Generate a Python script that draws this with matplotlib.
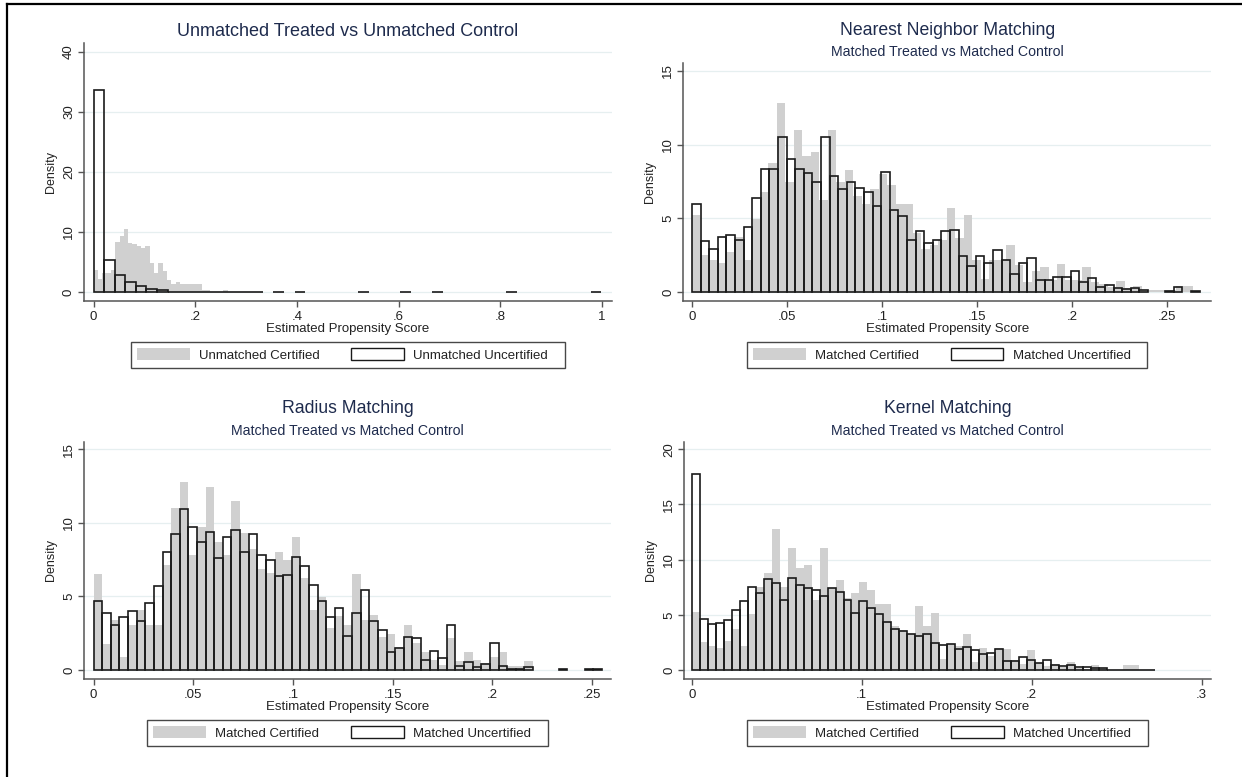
import numpy as np
import matplotlib
matplotlib.use('Agg')
import matplotlib.pyplot as plt
from matplotlib.patches import Patch
from matplotlib.lines import Line2D

plt.rcParams['font.family'] = ['Liberation Sans', 'DejaVu Sans']

nan = np.nan

# ---- datos (densidades por bin) ----
# Panel 1: Unmatched
p1_cert_start, p1_cert_width = 0.0, 0.0085
p1_cert = [3.75, 2.1, 3.2, 3.2, 3.75, 8.4, 9.4, 10.5, 8.1, 8.0,
           7.6, 7.3, 7.73, 4.87, 3.25, 4.87, 3.53, 1.96, 1.29, 1.68,
           1.29, 1.29, 1.29, 1.29, 1.29, 0.39, 0.39, 0.0, 0.0, 0.0, 0.39]
p1_unc_start, p1_unc_width = 0.0, 0.0208
p1_unc = [33.6, 5.3, 2.9, 1.6, 0.94, 0.5, 0.33, 0.08, 0.08, 0.08,
          0.08, 0.08, 0.08, 0.08, 0.08, 0.08, nan, 0.05, nan, 0.05,
          nan, nan, nan, nan, nan, 0.05, nan, nan, nan, 0.05,
          nan, nan, 0.05, nan, nan, nan, nan, nan, nan, 0.05,
          nan, nan, nan, nan, nan, nan, nan, 0.05]

# Panel 2: Nearest Neighbor
p2_cert_start, p2_cert_width = 0.0, 0.00447
p2_cert = [5.2, 2.5, 2.2, 1.95, 2.7, 3.74, 2.2, 4.97, 6.78, 8.73,
           12.8, 7.48, 11.0, 9.23, 9.52, 6.24, 11.0, 7.48, 8.28, 6.5,
           6.0, 6.96, 7.98, 7.26, 6.0, 6.0, 4.0, 2.95, 3.17, 3.5,
           5.7, 3.7, 5.2, 2.2, 0.9, 2.2, 2.2, 3.2, 1.84, 0.68,
           1.43, 1.7, 0.79, 1.93, 0.79, 0.79, 1.7, 0.68, 0.57, 0.34,
           0.73, 0.27, 0.43, 0.11, 0.16, 0.11, 0.16, 0.43, 0.43]
p2_unc_start, p2_unc_width = 0.0, 0.00453
p2_unc = [5.99, 3.45, 2.95, 3.72, 3.9, 3.51, 4.44, 6.35, 8.32, 8.32,
          10.54, 9.05, 8.32, 8.07, 7.44, 10.54, 7.89, 6.96, 7.44, 7.03,
          6.76, 5.85, 8.16, 5.56, 5.19, 3.51, 4.15, 3.31, 3.51, 4.15,
          4.24, 2.47, 1.75, 2.47, 2.0, 2.88, 2.18, 1.2, 2.0, 2.34,
          0.79, 0.79, 1.0, 1.0, 1.43, 0.7, 0.93, 0.36, 0.48, 0.27,
          0.2, 0.27, 0.16, nan, nan, 0.1, 0.36, nan, 0.05]

# Panel 3: Radius
p3_cert_start, p3_cert_width = 0.0, 0.00432
p3_cert = [6.53, 1.8, 3.4, 0.9, 3.06, 4.08, 3.06, 3.06, 7.14, 11.0,
           12.8, 7.8, 9.75, 12.47, 8.73, 7.82, 11.5, 9.3, 8.2, 6.9,
           6.58, 8.05, 7.48, 9.07, 6.24, 4.08, 4.99, 2.83, 3.7, 3.06,
           6.53, 3.4, 3.74, 2.27, 2.45, 1.59, 3.06, 1.81, 1.25, 0.68,
           0.34, 2.15, 0.63, 1.25, 0.68, 0.45, 0.9, 1.25, 0.29, 0.29, 0.63]
p3_unc_start, p3_unc_width = 0.0, 0.00432
p3_unc = [4.72, 3.88, 3.04, 3.58, 4.01, 3.31, 4.58, 5.71, 8.0, 9.27,
          10.97, 9.71, 8.73, 9.41, 7.6, 9.07, 9.5, 8.03, 9.27, 7.8,
          7.46, 6.42, 6.49, 7.66, 7.05, 5.78, 4.72, 3.58, 4.24, 2.34,
          3.88, 5.42, 3.31, 2.74, 1.2, 1.47, 2.27, 2.15, 0.66, 1.27,
          0.84, 3.04, 0.29, 0.57, 0.18, 0.43, 1.86, 0.29, 0.09, 0.09,
          0.23, nan, nan, nan, 0.05, nan, nan, 0.05, 0.05]

# Panel 4: Kernel
p4_cert_start, p4_cert_width = 0.0, 0.0047
p4_cert = [5.29, 2.5, 2.2, 1.96, 2.66, 3.72, 2.2, 5.05, 7.55, 8.76,
           12.8, 7.5, 11.03, 9.2, 9.5, 6.34, 11.03, 7.46, 8.16, 6.56,
           7.0, 8.0, 7.25, 6.0, 6.0, 4.0, 3.6, 3.3, 5.8, 4.0,
           5.2, 1.0, 2.4, 2.2, 3.23, 0.75, 1.96, 1.3, 1.96, 1.93,
           0.9, 0.5, 1.78, 0.6, 0.4, 0.5, 0.3, 0.7, 0.2, 0.1,
           0.46, 0.15, nan, nan, 0.46, 0.46]
p4_unc_start, p4_unc_width = 0.0, 0.0047
p4_unc = [17.8, 4.59, 4.2, 4.26, 4.5, 5.47, 6.22, 7.52, 6.95, 8.28,
          7.92, 6.31, 8.37, 7.7, 7.4, 7.22, 6.71, 7.4, 7.1, 6.37,
          5.2, 6.28, 5.59, 5.05, 4.32, 3.69, 3.56, 3.23, 3.05, 3.23,
          2.48, 2.3, 2.39, 1.93, 2.08, 1.81, 1.42, 1.54, 1.9, 0.82,
          0.82, 1.15, 0.94, 0.6, 0.91, 0.48, 0.33, 0.42, 0.24, 0.24,
          0.15, 0.15, 0.03, 0.03, 0.03, 0.03, 0.03, 0.03]

# textos
titulos = ['Unmatched Treated vs Unmatched Control', 'Nearest Neighbor Matching',
           'Radius Matching', 'Kernel Matching']
subtitulo = 'Matched Treated vs Matched Control'
leyendas = [('Unmatched Certified', 'Unmatched Uncertified'),
            ('Matched Certified', 'Matched Uncertified'),
            ('Matched Certified', 'Matched Uncertified'),
            ('Matched Certified', 'Matched Uncertified')]
xticks_1 = [0, 0.2, 0.4, 0.6, 0.8, 1.0]
xlabels_1 = ['0', '.2', '.4', '.6', '.8', '1']
xticks_2 = [0, 0.05, 0.1, 0.15, 0.2, 0.25]
xlabels_2 = ['0', '.05', '.1', '.15', '.2', '.25']
xticks_4 = [0, 0.1, 0.2, 0.3]
xlabels_4 = ['0', '.1', '.2', '.3']

W, H = 1242, 777
GRIS = '#D0D0D0'
NAVY = '#1e2b4d'
TXT = '#222222'


def fx(x):
    return x / W


def fy(y):
    return 1 - y / H


def barras(ax, inicio, ancho, alturas, **kw):
    h = np.asarray(alturas, dtype=float)
    x = inicio + ancho * np.arange(len(h))
    ok = ~np.isnan(h)
    ax.bar(x[ok], h[ok], width=ancho, align='edge', **kw)


def panel(fig, caja, xlim, ylim, yticks, xticks, xlabels, cert, unc,
          titulo, sub, ley):
    left, right, top, bottom = caja
    ax = fig.add_axes([fx(left), fy(bottom), (right - left) / W, (bottom - top) / H])
    barras(ax, cert[0], cert[1], cert[2], color=GRIS, linewidth=0, zorder=2)
    barras(ax, unc[0], unc[1], unc[2], facecolor='none', edgecolor='#1a1a1a',
           linewidth=1.2, zorder=3)
    ax.set_xlim(*xlim)
    ax.set_ylim(*ylim)
    ax.set_yticks(yticks)
    ax.set_yticklabels([str(t) for t in yticks], rotation=90, va='center')
    ax.set_xticks(xticks)
    ax.set_xticklabels(xlabels)
    for s in ['top', 'right']:
        ax.spines[s].set_visible(False)
    for s in ['left', 'bottom']:
        ax.spines[s].set_color('#555555')
        ax.spines[s].set_linewidth(1.1)
    ax.tick_params(direction='out', length=4.5, width=1, color='#555555',
                   labelcolor=TXT, labelsize=9.5, pad=3)
    ax.tick_params(axis='y', pad=2)
    ax.yaxis.grid(True, color='#e6eff0', linewidth=0.9, zorder=0)
    ax.set_axisbelow(True)

    cx = (left + right) / 2
    if sub:
        fig.text(fx(cx), fy(top - 33), titulo, ha='center', va='center',
                 fontsize=12.7, color=NAVY)
        fig.text(fx(cx), fy(top - 11), sub, ha='center', va='center',
                 fontsize=10.2, color=NAVY)
    else:
        fig.text(fx(cx), fy(top - 12), titulo, ha='center', va='center',
                 fontsize=13, color=NAVY)
    fig.text(fx(cx), fy(bottom + 28), 'Estimated Propensity Score',
             ha='center', va='center', fontsize=9.5, color=TXT)
    fig.text(fx(left - 33), fy((top + bottom) / 2), 'Density', rotation=90,
             ha='center', va='center', fontsize=9, color=TXT)

    manejadores = [Patch(facecolor=GRIS, edgecolor='none', label=ley[0]),
                   Patch(facecolor='white', edgecolor='#1a1a1a', linewidth=1.0,
                         label=ley[1] + '   ')]
    lg = ax.legend(handles=manejadores, loc='center', ncol=2,
                   bbox_to_anchor=(fx(cx), fy(bottom + 54)),
                   bbox_transform=fig.transFigure, fontsize=9.5,
                   frameon=True, fancybox=False, handlelength=4.0,
                   handleheight=1.0, handletextpad=0.7, columnspacing=2.4,
                   borderpad=0.45)
    lg.get_frame().set_edgecolor('#1a1a1a')
    lg.get_frame().set_linewidth(1.0)
    for t in lg.get_texts():
        t.set_color(TXT)
    return ax


fig = plt.figure(figsize=(W / 100, H / 100), dpi=100)
fig.patch.set_facecolor('white')

panel(fig, (84, 612, 43, 301), (-0.0189, 1.0197), (-1.5, 41.5), [0, 10, 20, 30, 40],
      xticks_1, xlabels_1,
      (p1_cert_start, p1_cert_width, p1_cert), (p1_unc_start, p1_unc_width, p1_unc),
      titulos[0], None, leyendas[0])

panel(fig, (683.4, 1211, 63.4, 301), (-0.00453, 0.2733), (-0.61, 15.52), [0, 5, 10, 15],
      xticks_2, xlabels_2,
      (p2_cert_start, p2_cert_width, p2_cert), (p2_unc_start, p2_unc_width, p2_unc),
      titulos[1], subtitulo, leyendas[1])

panel(fig, (84.3, 610.5, 441.7, 679), (-0.00466, 0.2592), (-0.61, 15.52), [0, 5, 10, 15],
      xticks_2, xlabels_2,
      (p3_cert_start, p3_cert_width, p3_cert), (p3_unc_start, p3_unc_width, p3_unc),
      titulos[2], subtitulo, leyendas[2])

panel(fig, (684.3, 1210.7, 441.7, 679), (-0.00435, 0.3053), (-0.816, 20.69), [0, 5, 10, 15, 20],
      xticks_4, xlabels_4,
      (p4_cert_start, p4_cert_width, p4_cert), (p4_unc_start, p4_unc_width, p4_unc),
      titulos[3], subtitulo, leyendas[3])

# borde exterior (izquierda y arriba)
fig.add_artist(Line2D([fx(6.8), fx(6.8)], [0, fy(4.3)], color='black', linewidth=1.6))
fig.add_artist(Line2D([fx(6.8), 1], [fy(4.3), fy(4.3)], color='black', linewidth=1.6))

fig.savefig('out.png', dpi=100)
